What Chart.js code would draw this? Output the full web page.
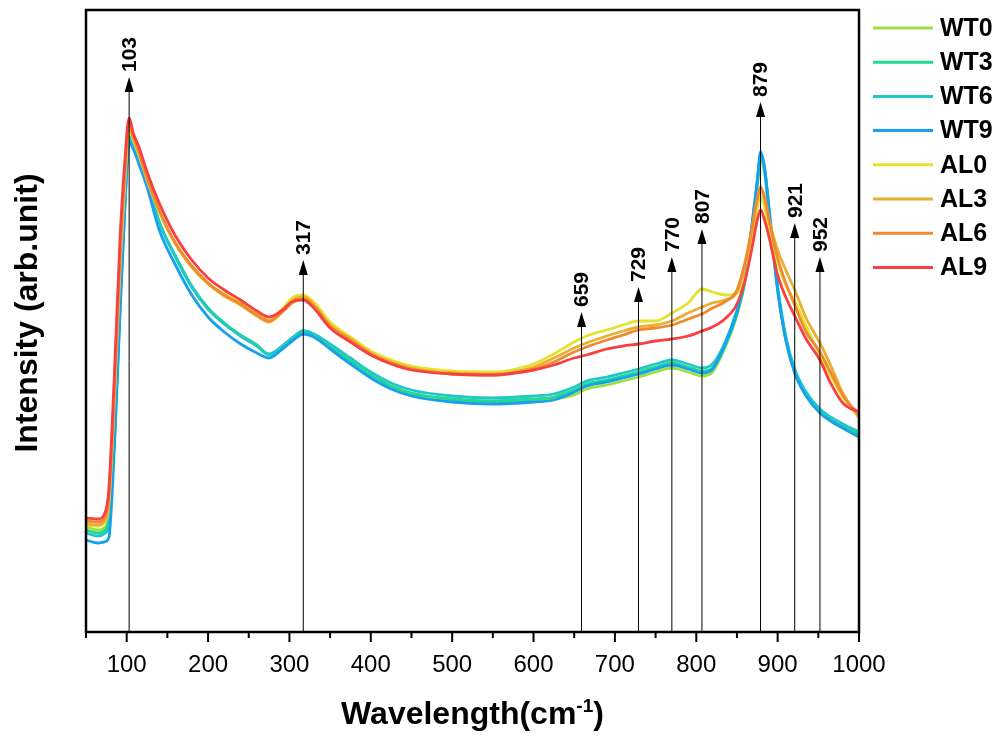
<!DOCTYPE html>
<html>
<head>
<meta charset="utf-8">
<title>Raman spectra WT / AL</title>
<script src="https://cdn.jsdelivr.net/npm/chart.js@4.4.1/dist/chart.umd.min.js"></script>
<style>
  html, body { margin: 0; padding: 0; background: #fff; }
  #wrap { width: 1003px; height: 739px; position: relative; }
</style>
</head>
<body>
<div id="wrap"><canvas id="spectra"></canvas></div>
<script>
// Rejilla de números de onda (cm-1) compartida por todos los espectros
const wavenumbers = [50, 65, 72, 78, 85, 92, 98, 103, 108, 115, 125, 140, 160, 180, 200, 220, 240, 260, 275, 290,
  305, 317, 330, 350, 375, 400, 425, 450, 500, 550, 600, 625, 650, 665, 690, 710, 729, 750, 770, 790,
  807, 820, 835, 850, 860, 868, 875, 879, 884, 890, 900, 910, 921, 935, 952, 965, 980, 1000];

// Intensidades (unidades arbitrarias)
const WT0 = [105, 102, 104, 117, 202, 337, 437, 496, 486, 471, 449, 409, 375, 345, 323, 308, 296, 286, 277, 285,
  295, 301, 297, 284, 269, 255, 244, 237, 231, 229, 231, 233, 237, 243, 247, 251, 255, 260, 264, 260,
  256, 260, 284, 317, 351, 399, 445, 472, 458, 414, 342, 292, 259, 236, 219, 211, 204, 195];
const WT3 = [102, 99, 101, 112, 197, 332, 434, 495, 487, 472, 450, 410, 376, 346, 324, 309, 297, 287, 277, 285,
  295, 301, 298, 286, 271, 257, 246, 239, 233, 231, 233, 235, 242, 248, 252, 256, 260, 265, 269, 265,
  261, 264, 285, 318, 352, 401, 448, 475, 461, 416, 343, 294, 261, 238, 221, 213, 206, 197];
const WT6 = [99, 96, 98, 107, 192, 327, 432, 494, 487, 473, 451, 410, 375, 345, 323, 308, 296, 286, 278, 285,
  295, 301, 298, 288, 274, 260, 249, 242, 236, 234, 236, 238, 245, 251, 255, 259, 263, 268, 272, 268,
  264, 268, 289, 322, 356, 404, 450, 477, 464, 420, 346, 296, 263, 240, 223, 215, 208, 200];
const WT9 = [92, 89, 90, 94, 187, 322, 427, 490, 483, 468, 445, 402, 367, 337, 315, 300, 288, 279, 274, 282,
  292, 298, 295, 283, 268, 254, 243, 236, 230, 228, 230, 232, 240, 246, 250, 254, 258, 263, 267, 263,
  259, 263, 287, 320, 354, 404, 452, 480, 464, 417, 342, 292, 259, 236, 219, 211, 204, 195];
const AL0 = [107, 106, 109, 127, 234, 367, 454, 504, 492, 477, 452, 420, 388, 366, 349, 338, 329, 318, 312, 322,
  335, 337, 330, 310, 295, 281, 272, 266, 261, 260, 268, 278, 290, 296, 302, 307, 311, 311, 319, 329,
  343, 340, 337, 339, 354, 387, 424, 435, 425, 400, 370, 347, 331, 306, 277, 257, 235, 215];
const AL3 = [108, 107, 110, 130, 240, 374, 460, 507, 494, 479, 453, 421, 388, 365, 348, 336, 327, 316, 310, 319,
  332, 335, 327, 307, 293, 279, 270, 264, 259, 258, 265, 274, 284, 289, 296, 301, 305, 307, 311, 319,
  325, 329, 332, 340, 367, 400, 432, 442, 432, 410, 382, 362, 342, 314, 289, 267, 239, 214];
const AL6 = [111, 110, 113, 135, 247, 382, 464, 510, 496, 480, 454, 422, 389, 366, 349, 337, 328, 317, 311, 319,
  330, 333, 326, 306, 292, 278, 269, 263, 258, 257, 263, 270, 280, 285, 292, 297, 302, 304, 307, 313,
  318, 324, 330, 342, 370, 402, 434, 445, 435, 410, 374, 349, 327, 300, 280, 260, 237, 217];
const AL9 = [114, 113, 117, 142, 260, 396, 474, 514, 499, 485, 460, 429, 396, 372, 354, 342, 332, 321, 315, 321,
  331, 332, 324, 304, 290, 277, 268, 262, 258, 257, 262, 267, 274, 277, 283, 286, 288, 291, 293, 296,
  301, 305, 313, 328, 352, 382, 412, 422, 412, 393, 357, 335, 316, 293, 272, 249, 229, 220];

const seriesNames = ['WT0', 'WT3', 'WT6', 'WT9', 'AL0', 'AL3', 'AL6', 'AL9'];
const seriesValues = [WT0, WT3, WT6, WT9, AL0, AL3, AL6, AL9];
const seriesColors = ['#9ee040', '#20d890', '#20c8c8', '#18a0f0', '#e8e030', '#e8b030', '#f08a30', '#f84040'];

// Picos marcados con flecha y altura de la punta (mismas unidades que la intensidad)
const peakPositions = [103, 317, 659, 729, 770, 807, 879, 921, 952];
const peakArrowTops = [555, 372, 320, 345, 375, 403, 530, 409, 375];

const tickValues = [100, 200, 300, 400, 500, 600, 700, 800, 900, 1000];
const minorTickValues = [50, 150, 250, 350, 450, 550, 650, 750, 850, 950];

const FONT = '"Liberation Sans", Arial, sans-serif';

// Flechas, marco, marcas del eje, títulos y leyenda
const decorPlugin = {
  id: 'decor',
  afterDatasetsDraw(chart) {
    const { ctx, chartArea: a, scales: { x, y } } = chart;
    ctx.save();
    ctx.strokeStyle = '#000';
    ctx.fillStyle = '#000';

    // flechas de los picos
    ctx.lineWidth = 1;
    peakPositions.forEach((p, i) => {
      const px = x.getPixelForValue(p);
      const tip = y.getPixelForValue(peakArrowTops[i]);
      ctx.beginPath();
      ctx.moveTo(px, a.bottom);
      ctx.lineTo(px, tip + 12);
      ctx.stroke();
      ctx.beginPath();
      ctx.moveTo(px, tip);
      ctx.lineTo(px - 4.5, tip + 15);
      ctx.lineTo(px + 4.5, tip + 15);
      ctx.closePath();
      ctx.fill();
      ctx.save();
      ctx.translate(px, tip - 5);
      ctx.rotate(-Math.PI / 2);
      ctx.font = 'bold 21px ' + FONT;
      ctx.textAlign = 'left';
      ctx.textBaseline = 'middle';
      ctx.fillText(String(p), 0, 1);
      ctx.restore();
    });

    // marco
    ctx.lineWidth = 2.5;
    ctx.strokeRect(a.left, a.top, a.right - a.left, a.bottom - a.top);

    // marcas del eje x (hacia fuera)
    ctx.lineWidth = 2;
    tickValues.forEach(v => {
      const px = x.getPixelForValue(v);
      ctx.beginPath(); ctx.moveTo(px, a.bottom); ctx.lineTo(px, a.bottom + 10); ctx.stroke();
    });
    minorTickValues.forEach(v => {
      const px = x.getPixelForValue(v);
      ctx.beginPath(); ctx.moveTo(px, a.bottom); ctx.lineTo(px, a.bottom + 6); ctx.stroke();
    });
    ctx.restore();
  },
  afterDraw(chart) {
    const { ctx, chartArea: a } = chart;
    ctx.save();
    ctx.fillStyle = '#000';

    // título eje x con superíndice
    const main = 'Wavelength(cm';
    const sup = '-1';
    const close = ')';
    ctx.font = 'bold 32px ' + FONT;
    const wMain = ctx.measureText(main).width;
    const wClose = ctx.measureText(close).width;
    ctx.font = 'bold 19px ' + FONT;
    const wSup = ctx.measureText(sup).width;
    let tx = (a.left + a.right) / 2 - (wMain + wSup + wClose) / 2;
    const base = 724;
    ctx.textBaseline = 'alphabetic';
    ctx.textAlign = 'left';
    ctx.font = 'bold 32px ' + FONT;
    ctx.fillText(main, tx, base);
    tx += wMain;
    ctx.font = 'bold 19px ' + FONT;
    ctx.fillText(sup, tx, base - 12);
    tx += wSup;
    ctx.font = 'bold 32px ' + FONT;
    ctx.fillText(close, tx, base);

    // título eje y
    ctx.save();
    ctx.translate(28, 313);
    ctx.rotate(-Math.PI / 2);
    ctx.textAlign = 'center';
    ctx.textBaseline = 'middle';
    ctx.font = 'bold 32px ' + FONT;
    ctx.fillText('Intensity (arb.unit)', 0, 0);
    ctx.restore();

    // leyenda
    ctx.font = 'bold 25px ' + FONT;
    ctx.textAlign = 'left';
    ctx.textBaseline = 'middle';
    chart.data.datasets.forEach((ds, i) => {
      const ly = 28 + i * 34.2;
      ctx.strokeStyle = ds.borderColor;
      ctx.lineWidth = 3;
      ctx.beginPath(); ctx.moveTo(873, ly); ctx.lineTo(933, ly); ctx.stroke();
      ctx.fillStyle = '#000';
      ctx.fillText(ds.label, 940, ly + 1);
    });
    ctx.restore();
  }
};

const canvas = document.getElementById('spectra');
new Chart(canvas, {
  type: 'line',
  data: {
    datasets: seriesNames.map((name, i) => ({
      label: name,
      data: wavenumbers.map((w, k) => ({ x: w, y: seriesValues[i][k] })),
      borderColor: seriesColors[i],
      borderWidth: 2.8,
      pointRadius: 0,
      fill: false,
      cubicInterpolationMode: 'monotone',
      order: seriesNames.length - i
    }))
  },
  options: {
    responsive: true,
    maintainAspectRatio: false,
    animation: false,
    layout: { padding: { top: 10, right: 144, left: 0, bottom: 0 } },
    plugins: {
      legend: { display: false },
      tooltip: { enabled: false }
    },
    scales: {
      x: {
        type: 'linear',
        min: 50,
        max: 1000,
        afterBuildTicks: s => { s.ticks = tickValues.map(v => ({ value: v })); },
        afterFit: s => { s.height = 107; },
        grid: { display: false, drawTicks: false },
        border: { display: false },
        ticks: {
          color: '#000',
          font: { family: FONT, size: 24 },
          padding: 19,
          maxRotation: 0,
          autoSkip: false,
          callback: v => String(v)
        }
      },
      y: {
        min: 0,
        max: 622,
        afterFit: s => { s.width = 86; },
        ticks: { display: false },
        grid: { display: false, drawTicks: false },
        border: { display: false }
      }
    }
  },
  plugins: [decorPlugin]
});
</script>
</body>
</html>
